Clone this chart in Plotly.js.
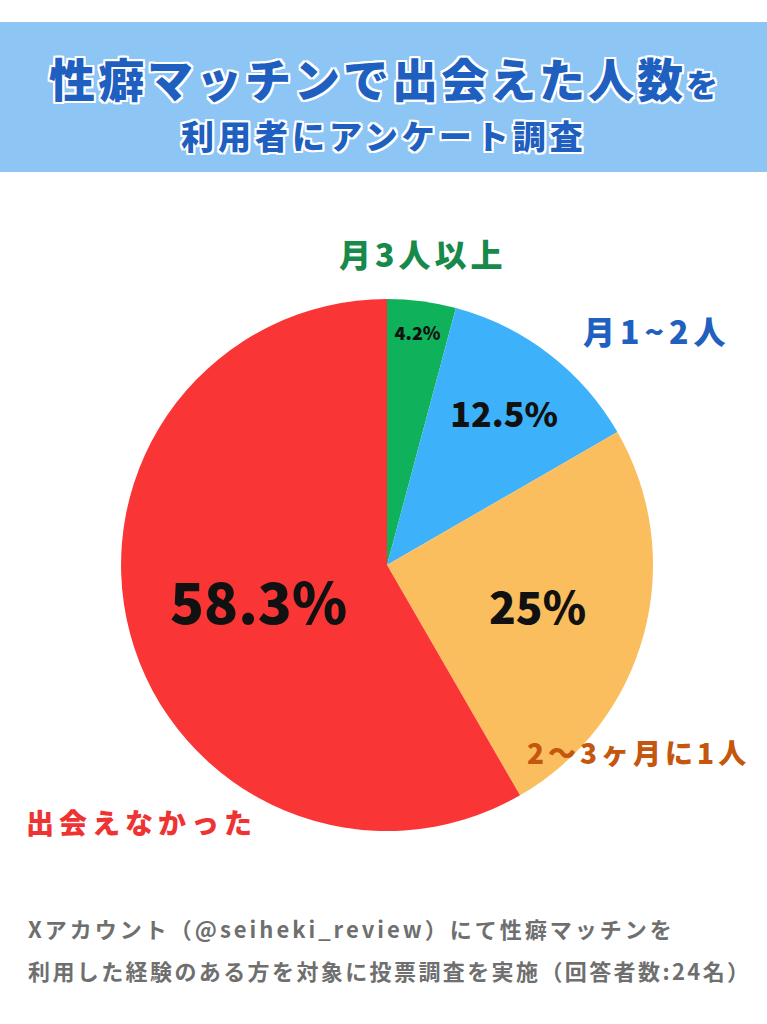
<!DOCTYPE html>
<html>
<head>
<meta charset="utf-8">
<script src="https://cdn.plot.ly/plotly-3.0.1.min.js"></script>
<style>
  html, body { margin: 0; padding: 0; background: #fff; }
  #chart { width: 767px; height: 1024px; }
</style>
</head>
<body>
<div id="chart"></div>
<script>
// survey answers (24 respondents), clockwise from 12 o'clock
const categories = ['月3人以上', '月1~2人', '2〜3ヶ月に1人', '出会えなかった'];
const counts = [1, 3, 6, 14];
const pctLabels = ['4.2%', '12.5%', '25%', '58.3%'];

const sliceColors = ['#0fb25a', '#3db1f9', '#fbbe5f', '#fa3535'];
const labelColors = ['#17894a', '#2160bf', '#c4560e', '#ef3232'];
const pctSizes = [18, 34, 44, 56];

const FONT = '"Noto Sans CJK JP", "Noto Sans", sans-serif';

const trace = {
    type: 'pie',
    labels: categories,
    values: counts,
    text: pctLabels,
    textinfo: 'text',
    textposition: 'inside',
    insidetextorientation: 'horizontal',
    insidetextfont: { family: FONT, size: pctSizes, color: '#111', weight: 900 },
    marker: { colors: sliceColors, line: { width: 0 } },
    sort: false,
    direction: 'clockwise',
    rotation: 0,
    hoverinfo: 'none',
    domain: { x: [0.1578, 0.8514], y: [0.1885, 0.708] }
};

// outside category labels
const labelPos = [
    { x: 423, y: 253 },
    { x: 656, y: 330 },
    { x: 638, y: 752 },
    { x: 141, y: 822 }
];
const labelSizes = [32, 32, 28, 28];
const labelSpacing = [4, 5, 4, 5];

function spaced(t, px) {
    return '<span style="letter-spacing:' + px + 'px">' + t + '</span>';
}

const annotations = categories.map((c, i) => ({
    text: spaced(c, labelSpacing[i]),
    xref: 'paper', yref: 'paper',
    x: labelPos[i].x / 767, y: 1 - labelPos[i].y / 1024,
    xanchor: 'center', yanchor: 'middle',
    showarrow: false,
    font: { family: FONT, size: labelSizes[i], color: labelColors[i], weight: 900 }
}));

const outline = '2px 2px 0 #fff, -2px -2px 0 #fff, 2px -2px 0 #fff, -2px 2px 0 #fff, 0 2px 0 #fff, 0 -2px 0 #fff, 2px 0 0 #fff, -2px 0 0 #fff';

annotations.push(
    {
        text: spaced('性癖マッチンで出会えた人数', 3) + '<span style="font-size:32px">を</span>',
        xref: 'paper', yref: 'paper', x: 0.5, y: 1 - 77 / 1024,
        xanchor: 'center', yanchor: 'middle', showarrow: false,
        font: { family: FONT, size: 46, color: '#1e5fbf', weight: 900, shadow: outline }
    },
    {
        text: spaced('利用者にアンケート調査', 4),
        xref: 'paper', yref: 'paper', x: 0.5, y: 1 - 135 / 1024,
        xanchor: 'center', yanchor: 'middle', showarrow: false,
        font: { family: FONT, size: 33, color: '#1e5fbf', weight: 900, shadow: outline }
    },
    {
        text: spaced('Xアカウント（@seiheki_review）にて性癖マッチンを', 3),
        xref: 'paper', yref: 'paper', x: 26 / 767, y: 1 - 928 / 1024,
        xanchor: 'left', yanchor: 'middle', showarrow: false,
        font: { family: FONT, size: 22, color: '#6f6f6f', weight: 700 }
    },
    {
        text: spaced('利用した経験のある方を対象に投票調査を実施（回答者数:24名）', 2.4),
        xref: 'paper', yref: 'paper', x: 26 / 767, y: 1 - 970 / 1024,
        xanchor: 'left', yanchor: 'middle', showarrow: false,
        font: { family: FONT, size: 22, color: '#6f6f6f', weight: 700 }
    }
);

const layout = {
    width: 767,
    height: 1024,
    margin: { l: 0, r: 0, t: 0, b: 0 },
    paper_bgcolor: '#ffffff',
    showlegend: false,
    shapes: [{
        type: 'rect', xref: 'paper', yref: 'paper', layer: 'below',
        x0: 0, x1: 1, y0: 1 - 172 / 1024, y1: 1 - 22 / 1024,
        fillcolor: '#8dc5f5', line: { width: 0 }
    }],
    annotations: annotations
};

Plotly.newPlot('chart', [trace], layout, { displayModeBar: false, staticPlot: true });
</script>
</body>
</html>
